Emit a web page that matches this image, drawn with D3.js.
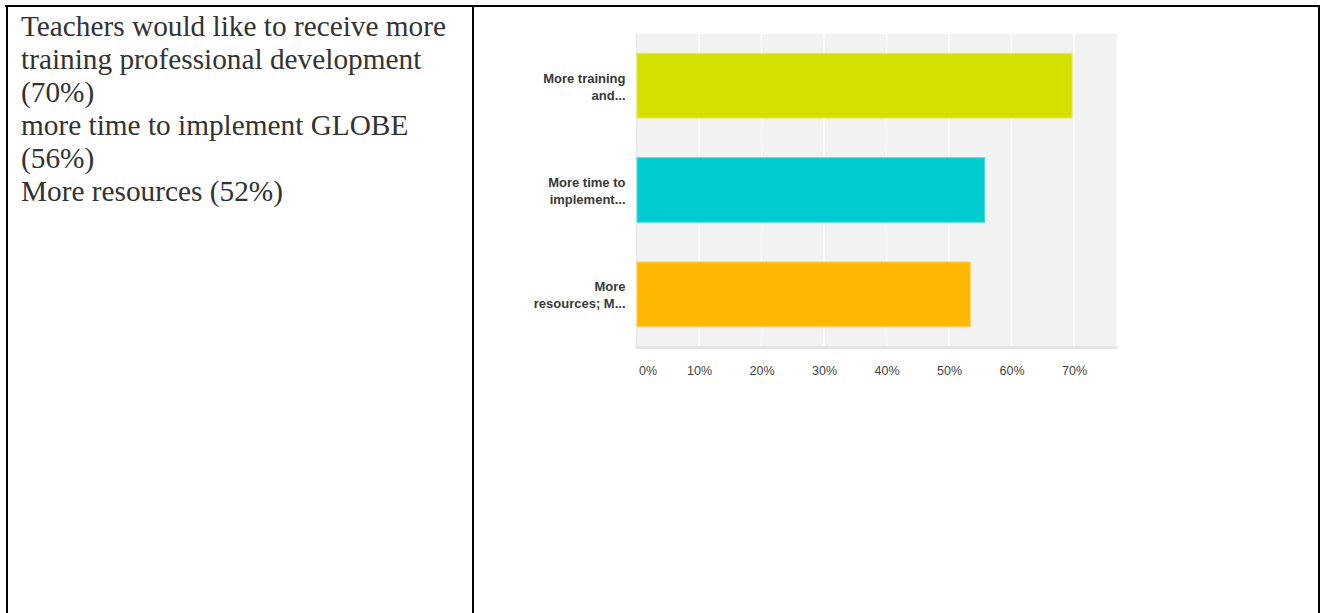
<!DOCTYPE html>
<html>
<head>
<meta charset="utf-8">
<script src="https://cdn.jsdelivr.net/npm/d3@7"></script>
<style>
  html, body { margin: 0; padding: 0; background: #fff; }
  svg { display: block; }
</style>
</head>
<body>
<svg id="page" width="1320" height="613"></svg>
<script>
// Survey summary text (left cell)
const summaryLines = [
  "Teachers would like to receive more",
  "training professional development",
  "(70%)",
  "more time to implement GLOBE",
  "(56%)",
  "More resources (52%)"
];

// Bar chart data (right cell)
const categories = [
  ["More training", "and..."],
  ["More time to", "implement..."],
  ["More", "resources; M..."]
];
const values = [0.6977, 0.5581, 0.5349];
const barColors = ["#d4e100", "#00cbce", "#ffb800"];
const barStrokes = ["#e3ec5a", "#5fdfe0", "#ffd060"];
const tickValues = [0, 0.1, 0.2, 0.3, 0.4, 0.5, 0.6, 0.7];
const xMax = 0.7688;

const svg = d3.select("#page");

// Table frame
const frame = svg.append("g").attr("stroke", "#000").attr("stroke-width", 2);
frame.append("line").attr("x1", 5).attr("x2", 1320).attr("y1", 6).attr("y2", 6);
frame.append("line").attr("x1", 7).attr("x2", 7).attr("y1", 5).attr("y2", 613);
frame.append("line").attr("x1", 473).attr("x2", 473).attr("y1", 5).attr("y2", 613);
frame.append("line").attr("x1", 1319).attr("x2", 1319).attr("y1", 5).attr("y2", 613);

// Summary text
svg.append("g")
  .selectAll("text")
  .data(summaryLines)
  .join("text")
  .attr("x", 21)
  .attr("y", (d, i) => 36 + i * 33)
  .attr("font-family", "'Liberation Serif', 'Times New Roman', serif")
  .attr("font-size", 29.3)
  .attr("fill", "#333")
  .text(d => d);

// Chart
const plot = { left: 636.5, right: 1117, top: 34, bottom: 346 };

const x = d3.scaleLinear().domain([0, xMax]).range([plot.left, plot.right]);
const y = d3.scaleBand()
  .domain(d3.range(categories.length))
  .range([plot.top, plot.bottom])
  .paddingInner(0.37)
  .paddingOuter(0.18);

const chart = svg.append("g").attr("font-family", "'Liberation Sans', Arial, Helvetica, sans-serif");

chart.append("rect")
  .attr("x", plot.left).attr("y", plot.top)
  .attr("width", plot.right - plot.left).attr("height", plot.bottom - plot.top)
  .attr("fill", "#f2f2f2");

// Vertical gridlines
chart.append("g")
  .selectAll("line")
  .data(tickValues.filter(t => t > 0))
  .join("line")
  .attr("x1", d => x(d)).attr("x2", d => x(d))
  .attr("y1", plot.top).attr("y2", plot.bottom)
  .attr("stroke", "#fff").attr("stroke-width", 1.5);

// Baseline strip under the plot
chart.append("rect")
  .attr("x", plot.left).attr("y", plot.bottom)
  .attr("width", plot.right - plot.left).attr("height", 3)
  .attr("fill", "#e4e4e4");
chart.append("line")
  .attr("x1", plot.left).attr("x2", plot.left)
  .attr("y1", plot.top).attr("y2", plot.bottom + 3)
  .attr("stroke", "#e6e6e6").attr("stroke-width", 1);

// Bars
chart.append("g")
  .selectAll("rect")
  .data(values)
  .join("rect")
  .attr("x", x(0) + 0.5)
  .attr("y", (d, i) => y(i) + 0.5)
  .attr("width", d => x(d) - x(0) - 1)
  .attr("height", y.bandwidth() - 1)
  .attr("fill", (d, i) => barColors[i])
  .attr("stroke", (d, i) => barStrokes[i])
  .attr("stroke-width", 1);

// Category labels (two lines, right aligned)
const catG = chart.append("g")
  .selectAll("text")
  .data(categories)
  .join("text")
  .attr("text-anchor", "end")
  .attr("font-size", 13)
  .attr("font-weight", "bold")
  .attr("fill", "#383838")
  .attr("y", (d, i) => y(i) + y.bandwidth() / 2);
catG.selectAll("tspan")
  .data(d => d)
  .join("tspan")
  .attr("x", 625.5)
  .attr("dy", (d, j) => j === 0 ? -3 : 17)
  .text(d => d);

// X axis tick labels
const xAxis = d3.axisBottom(x)
  .tickValues(tickValues)
  .tickFormat(d3.format(".0%"))
  .tickSize(0)
  .tickPadding(0);
const axisG = chart.append("g")
  .attr("transform", `translate(0, 366)`)
  .call(xAxis);
axisG.select(".domain").remove();
axisG.selectAll("text")
  .attr("font-family", "'Liberation Sans', Arial, Helvetica, sans-serif")
  .attr("font-size", 12.5)
  .attr("fill", "#444")
  .attr("dy", "0.71em")
  .attr("text-anchor", d => d === 0 ? "start" : "middle")
  .attr("x", d => d === 0 ? 2 : 0);
</script>
</body>
</html>
